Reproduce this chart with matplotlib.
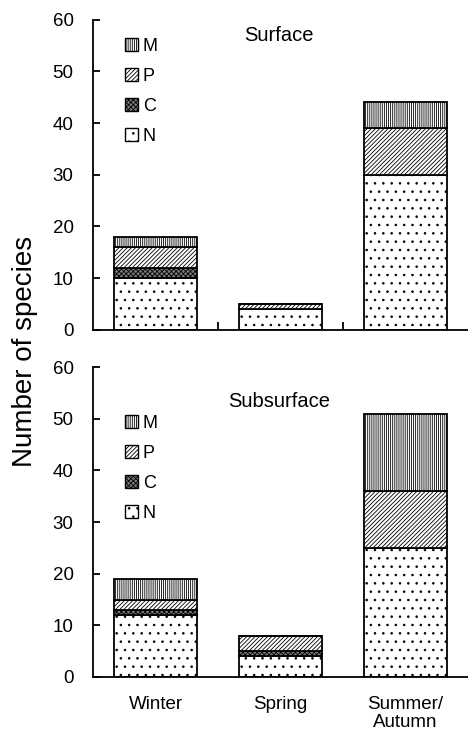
import matplotlib
matplotlib.use("Agg")
import matplotlib.pyplot as plt
import numpy as np
from matplotlib.patches import Patch

plt.rcParams['font.family'] = ['Liberation Sans', 'DejaVu Sans']
plt.rcParams['hatch.linewidth'] = 0.6

seasons = ["Winter", "Spring", "Summer/\nAutumn"]
groups = ["N", "C", "P", "M"]
hatches = {"N": "..", "C": "xxxxxxx", "P": "////////", "M": "||||||||"}
faces = {"N": "white", "C": "#7a7a7a", "P": "white", "M": "white"}

# surface layer
surf_N = [10, 4, 30]
surf_C = [2, 0, 0]
surf_P = [4, 1, 9]
surf_M = [2, 0, 5]

# subsurface layer
sub_N = [12, 4, 25]
sub_C = [1, 1, 0]
sub_P = [2, 3, 11]
sub_M = [4, 0, 15]

fig = plt.figure(figsize=(4.68, 7.33), dpi=100)
ax1 = fig.add_axes([0.199, 0.550, 0.801, 0.423])
ax2 = fig.add_axes([0.199, 0.0764, 0.801, 0.4229])

x = np.arange(len(seasons))


def draw(ax, data, title, title_y, leg_y):
    bottom = np.zeros(len(seasons))
    for g in groups:
        vals = np.array(data[g], dtype=float)
        ax.bar(x, vals, 0.67, bottom=bottom, color=faces[g], edgecolor="black",
               hatch=hatches[g], linewidth=1.3)
        bottom += vals
    ax.set_xlim(-0.5, 2.5)
    ax.set_ylim(0, 60)
    ax.set_yticks(range(0, 61, 10))
    ax.tick_params(axis="y", direction="in", length=5, width=1.3, labelsize=13.5, pad=14)
    for s in ["top", "right"]:
        ax.spines[s].set_visible(False)
    for s in ["left", "bottom"]:
        ax.spines[s].set_linewidth(1.3)
    ax.text(0.495, title_y, title, transform=ax.transAxes, ha="center", va="center", fontsize=14.5)
    handles = [Patch(facecolor=faces[g], edgecolor="black", hatch=hatches[g], label=g)
               for g in groups[::-1]]
    ax.legend(handles=handles, loc="upper left", bbox_to_anchor=(0.065, leg_y), frameon=False,
              handlelength=0.75, handleheight=0.75, handletextpad=0.25, labelspacing=0.72,
              fontsize=13, borderaxespad=0)


draw(ax1, {"N": surf_N, "C": surf_C, "P": surf_P, "M": surf_M}, "Surface", 0.95, 0.965)
ax1.set_xticks([0.5, 1.5])
ax1.set_xticklabels([])
ax1.tick_params(axis="x", direction="in", length=6, width=1.3)

draw(ax2, {"N": sub_N, "C": sub_C, "P": sub_P, "M": sub_M}, "Subsurface", 0.89, 0.87)
ax2.set_xticks(x)
ax2.set_xticklabels(seasons, fontsize=13.5, linespacing=1.05)
ax2.tick_params(axis="x", length=0, pad=14)

fig.text(0.053, 0.52, "Number of species", rotation=90, ha="center", va="center", fontsize=20)

fig.savefig("out.png", dpi=100)
